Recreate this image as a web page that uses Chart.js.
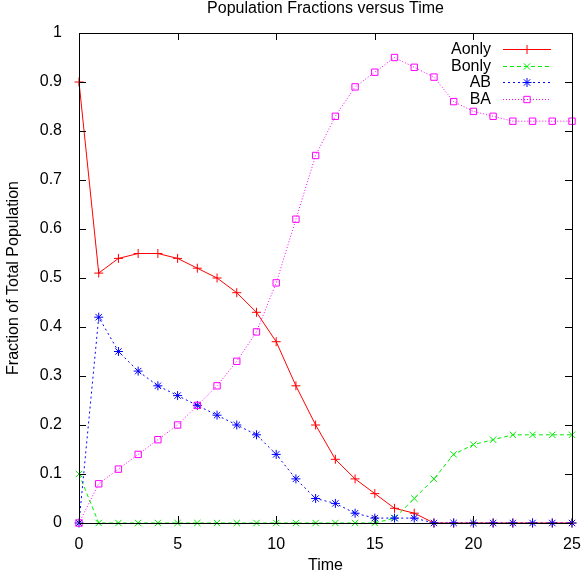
<!DOCTYPE html>
<html>
<head>
<meta charset="utf-8">
<script src="https://cdn.jsdelivr.net/npm/chart.js@4"></script>
<style>
  body { margin: 0; background: #fff; }
  #wrap { width: 582px; height: 579px; }
</style>
</head>
<body>
<div id="wrap"><canvas id="chart" width="582" height="579"></canvas></div>
<script>
// время (шаги)
const timeSteps = [0, 1, 2, 3, 4, 5, 6, 7, 8, 9, 10, 11, 12, 13, 14, 15, 16, 17, 18, 19, 20, 21, 22, 23, 24, 25];

// доли популяции
const aOnly = [0.9, 0.51, 0.54, 0.55, 0.55, 0.54, 0.52, 0.50, 0.47, 0.43, 0.37, 0.28, 0.20, 0.13, 0.09, 0.06, 0.03, 0.02, 0, 0, 0, 0, 0, 0, 0, 0];
const bOnly = [0.1, 0, 0, 0, 0, 0, 0, 0, 0, 0, 0, 0, 0, 0, 0, 0, 0.01, 0.05, 0.09, 0.14, 0.16, 0.17, 0.18, 0.18, 0.18, 0.18];
const ab = [0, 0.42, 0.35, 0.31, 0.28, 0.26, 0.24, 0.22, 0.20, 0.18, 0.14, 0.09, 0.05, 0.04, 0.02, 0.01, 0.01, 0.01, 0, 0, 0, 0, 0, 0, 0, 0];
const ba = [0, 0.08, 0.11, 0.14, 0.17, 0.20, 0.24, 0.28, 0.33, 0.39, 0.49, 0.62, 0.75, 0.83, 0.89, 0.92, 0.95, 0.93, 0.91, 0.86, 0.84, 0.83, 0.82, 0.82, 0.82, 0.82];

const xTicks = [0, 5, 10, 15, 20, 25];
const yTicks = [0, 0.1, 0.2, 0.3, 0.4, 0.5, 0.6, 0.7, 0.8, 0.9, 1];

const FONT = 'Liberation Sans, Arial, sans-serif';
const FONT_SIZE = 16;

function toPoints(values) {
  return values.map((v, i) => ({ x: timeSteps[i], y: v }));
}

// рамка, внутренние засечки и заголовок как в gnuplot
const frameAndTicks = {
  id: 'frameAndTicks',
  afterDraw(chart) {
    const { ctx, chartArea: a, scales } = chart;
    const len = 7;
    ctx.save();
    ctx.strokeStyle = '#000';
    ctx.lineWidth = 1;
    ctx.beginPath();
    xTicks.forEach((t) => {
      const px = Math.round(scales.x.getPixelForValue(t)) + 0.5;
      ctx.moveTo(px, a.bottom); ctx.lineTo(px, a.bottom - len);
      ctx.moveTo(px, a.top); ctx.lineTo(px, a.top + len);
    });
    yTicks.forEach((t) => {
      const py = Math.round(scales.y.getPixelForValue(t)) + 0.5;
      ctx.moveTo(a.left, py); ctx.lineTo(a.left + len, py);
      ctx.moveTo(a.right, py); ctx.lineTo(a.right - len, py);
    });
    ctx.stroke();
    ctx.strokeRect(Math.round(a.left) + 0.5, Math.round(a.top) + 0.5,
      Math.round(a.right - a.left), Math.round(a.bottom - a.top));

    ctx.fillStyle = '#000';
    ctx.font = FONT_SIZE + 'px ' + FONT;
    ctx.textAlign = 'center';
    ctx.textBaseline = 'middle';
    ctx.fillText('Population Fractions versus Time', (a.left + a.right) / 2, 9);
    ctx.restore();
  },
};

// легенда внутри графика
const gnuLegend = {
  id: 'gnuLegend',
  afterDraw(chart) {
    const { ctx } = chart;
    ctx.save();
    ctx.font = FONT_SIZE + 'px ' + FONT;
    ctx.textAlign = 'right';
    ctx.textBaseline = 'middle';
    chart.data.datasets.forEach((ds, i) => {
      const y = Math.round(49 + i * 16.6) + 0.5;
      ctx.fillStyle = '#000';
      ctx.fillText(ds.label, 491, y);
      ctx.strokeStyle = ds.borderColor;
      ctx.lineWidth = 1;
      ctx.setLineDash(ds.borderDash || []);
      ctx.beginPath();
      ctx.moveTo(503, y);
      ctx.lineTo(551, y);
      ctx.stroke();
      ctx.setLineDash([]);
      ctx.fillStyle = 'rgba(0,0,0,0)';
      Chart.helpers.drawPoint(ctx, {
        pointStyle: ds.pointStyle,
        radius: ds.pointRadius,
        borderWidth: 1,
        rotation: 0,
      }, 527, y);
    });
    ctx.restore();
  },
};

const makeSet = (label, values, color, style, dash, order) => ({
  label,
  data: toPoints(values),
  borderColor: color,
  backgroundColor: 'rgba(0,0,0,0)',
  pointBorderColor: color,
  pointBackgroundColor: 'rgba(0,0,0,0)',
  pointStyle: style,
  pointRadius: 4.5,
  pointBorderWidth: 1,
  borderWidth: 1,
  borderDash: dash,
  tension: 0,
  clip: false,
  order,
});

new Chart(document.getElementById('chart'), {
  type: 'line',
  data: {
    datasets: [
      makeSet('Aonly', aOnly, '#ff0000', 'cross', [], 4),
      makeSet('Bonly', bOnly, '#00ee00', 'crossRot', [4, 3], 3),
      makeSet('AB', ab, '#0000ff', 'star', [2, 3], 2),
      makeSet('BA', ba, '#ff00ff', 'rect', [1, 2], 1),
    ],
  },
  options: {
    responsive: false,
    animation: false,
    layout: { padding: { top: 33, right: 10, left: 0, bottom: 0 } },
    plugins: {
      legend: { display: false },
      title: { display: false },
      tooltip: { enabled: false },
    },
    scales: {
      x: {
        type: 'linear',
        min: 0,
        max: 25,
        afterBuildTicks: (scale) => { scale.ticks = xTicks.map((v) => ({ value: v })); },
        afterFit: (scale) => {
          scale.height = 56;
          scale.paddingLeft = 0;
          scale.paddingRight = 0;
        },
        grid: { display: false },
        border: { display: false },
        ticks: { color: '#000', font: { family: FONT, size: FONT_SIZE }, padding: 4, maxRotation: 0 },
        title: { display: true, text: 'Time', color: '#000', font: { family: FONT, size: FONT_SIZE }, padding: { top: 6 } },
      },
      y: {
        min: 0,
        max: 1,
        afterBuildTicks: (scale) => { scale.ticks = yTicks.map((v) => ({ value: v })); },
        afterFit: (scale) => { scale.width = 79; },
        grid: { display: false },
        border: { display: false },
        ticks: {
          color: '#000',
          font: { family: FONT, size: FONT_SIZE },
          padding: 9,
          callback: (v) => String(Math.round(v * 10) / 10),
        },
        title: { display: true, text: 'Fraction of Total Population', color: '#000', font: { family: FONT, size: FONT_SIZE }, padding: { bottom: 2 } },
      },
    },
  },
  plugins: [frameAndTicks, gnuLegend],
});
</script>
</body>
</html>
